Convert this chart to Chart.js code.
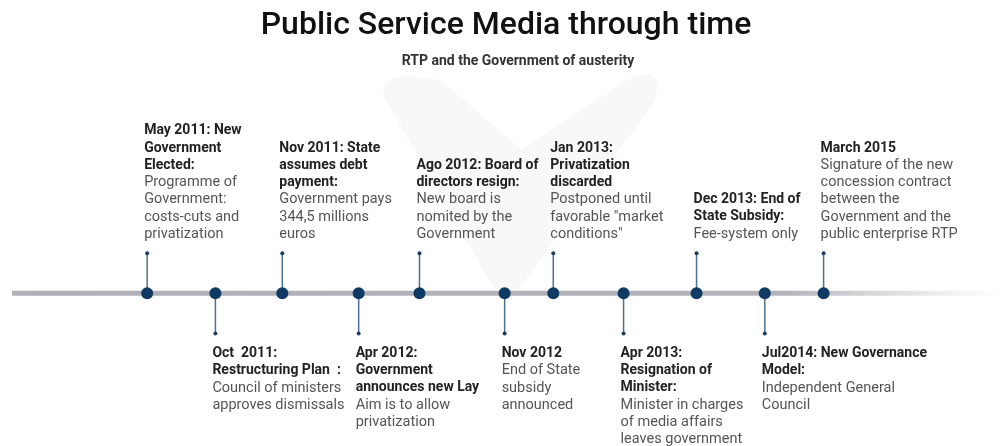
<!DOCTYPE html>
<html>
<head>
<meta charset="utf-8">
<script src="https://cdn.jsdelivr.net/npm/chart.js@4"></script>
<style>
html,body{margin:0;padding:0;background:#fff;}
#wrap{width:1008px;height:446px;position:relative;}
</style>
</head>
<body>
<div id="wrap"><canvas id="c" width="1008" height="446"></canvas></div>
<script>
// ---- data ----
const chartTitle = "Public Service Media through time";
const chartSubtitle = "RTP and the Government of austerity";
// position of each event along the timeline (schematic slots)
const eventPos = [2.0, 3.01, 4.0, 5.13, 6.03, 7.29, 8.01, 9.05, 10.13, 11.14, 12.01];
// +1 = label above line, -1 = label below
const eventSide = [1, -1, 1, -1, 1, -1, 1, -1, 1, -1, 1];
const eventTitles = [
  ["May 2011: New", "Government", "Elected:"],
  ["Oct  2011:", "Restructuring Plan  :"],
  ["Nov 2011: State", "assumes debt", "payment:"],
  ["Apr 2012:", "Government", "announces new Lay"],
  ["Ago 2012: Board of", "directors resign:"],
  ["Nov 2012"],
  ["Jan 2013:", "Privatization", "discarded"],
  ["Apr 2013:", "Resignation of", "Minister:"],
  ["Dec 2013: End of", "State Subsidy:"],
  ["Jul2014: New Governance", "Model:"],
  ["March 2015"]
];
const eventDescs = [
  ["Programme of", "Government:", "costs-cuts and", "privatization"],
  ["Council of ministers", "approves dismissals"],
  ["Government pays", "344,5 millions", "euros"],
  ["Aim is to allow", "privatization"],
  ["New board is", "nomited by the", "Government"],
  ["End of State", "subsidy", "announced"],
  ["Postponed until", "favorable \"market", "conditions\""],
  ["Minister in charges", "of media affairs", "leaves government"],
  ["Fee-system only"],
  ["Independent General", "Council"],
  ["Signature of the new", "concession contract", "between the", "Government and the", "public enterprise RTP"]
];
const lineStart = 0, lineEnd = 14.65;

// ---- build datasets ----
const dots = eventPos.map(x => ({x: x, y: 0}));
const ends = eventPos.map((x, i) => ({x: x, y: eventSide[i]}));
const stems = [];
eventPos.forEach((x, i) => { stems.push({x: x, y: 0}); stems.push({x: x, y: eventSide[i]}); stems.push({x: x, y: null}); });

const FONT = "Roboto, 'Open Sans', sans-serif";

const bgPlugin = {
  id: 'bgMark',
  beforeDraw(chart) {
    const ctx = chart.ctx;
    ctx.save();
    ctx.fillStyle = '#fff';
    ctx.fillRect(0, 0, chart.width, chart.height);
    // faint watermark shape
    ctx.fillStyle = '#f8f8f9';
    ctx.beginPath();
    ctx.moveTo(383, 95);
    ctx.quadraticCurveTo(385, 74, 410, 76);
    ctx.lineTo(440, 80);
    ctx.lineTo(522, 150);
    ctx.lineTo(628, 80);
    ctx.quadraticCurveTo(665, 62, 655, 100);
    ctx.lineTo(520, 288);
    ctx.quadraticCurveTo(505, 300, 492, 285);
    ctx.closePath();
    ctx.fill();
    ctx.restore();
  }
};

const textPlugin = {
  id: 'timelineText',
  afterDatasetsDraw(chart) {
    const ctx = chart.ctx;
    const xs = chart.scales.x, ys = chart.scales.y;
    ctx.save();
    ctx.textAlign = 'center';
    ctx.textBaseline = 'middle';
    ctx.fillStyle = '#111';
    ctx.font = "500 32px " + FONT;
    ctx.fillText(chartTitle, 506, 26);
    ctx.fillStyle = '#333';
    ctx.font = "bold 14px " + FONT;
    ctx.fillText(chartSubtitle, 518, 61);
    const LH = 17.2;
    ctx.textAlign = 'left';
    eventPos.forEach((p, i) => {
      const x = xs.getPixelForValue(p) - 3;
      const yEnd = ys.getPixelForValue(eventSide[i]);
      const lines = eventTitles[i].map(t => ({t, b: true})).concat(eventDescs[i].map(t => ({t, b: false})));
      let y0;
      if (eventSide[i] > 0) y0 = yEnd - 19 - (lines.length - 1) * LH;
      else y0 = yEnd + 20;
      lines.forEach((l, k) => {
        ctx.font = (l.b ? "bold 14px " : "14.5px ") + FONT;
        ctx.fillStyle = l.b ? '#222' : '#555';
        ctx.fillText(l.t, x, y0 + k * LH);
      });
    });
    ctx.restore();
  }
};

new Chart(document.getElementById('c'), {
  type: 'scatter',
  data: {
    datasets: [
      { data: dots, pointRadius: 6, pointBackgroundColor: '#0e3a63', pointBorderWidth: 0, showLine: false, order: 0 },
      { data: ends, pointRadius: 2, pointBackgroundColor: '#1c3d5e', pointBorderWidth: 0, showLine: false, order: 1 },
      { data: stems, showLine: true, spanGaps: false, borderColor: '#4f6f8f', borderWidth: 1.5, pointRadius: 0, order: 2 },
      { data: [{x: lineStart, y: 0}, {x: lineEnd, y: 0}], showLine: true, pointRadius: 0, borderWidth: 5, order: 3,
        borderColor: (c) => {
          const a = c.chart.chartArea;
          if (!a) return '#b3b3b9';
          const g = c.chart.ctx.createLinearGradient(a.left, 0, a.right, 0);
          g.addColorStop(0, '#b0b0b6');
          g.addColorStop(0.78, '#b3b3b9');
          g.addColorStop(1, 'rgba(200,200,205,0)');
          return g;
        } }
    ]
  },
  options: {
    responsive: false,
    animation: false,
    events: [],
    layout: { padding: { left: 12, right: 0, top: 0, bottom: 0 } },
    plugins: { legend: { display: false }, tooltip: { enabled: false }, title: { display: false } },
    scales: {
      x: { type: 'linear', display: false, min: lineStart, max: lineEnd },
      y: { type: 'linear', display: false, min: -3.65, max: 7.15 }
    }
  },
  plugins: [bgPlugin, textPlugin]
});
</script>
</body>
</html>
